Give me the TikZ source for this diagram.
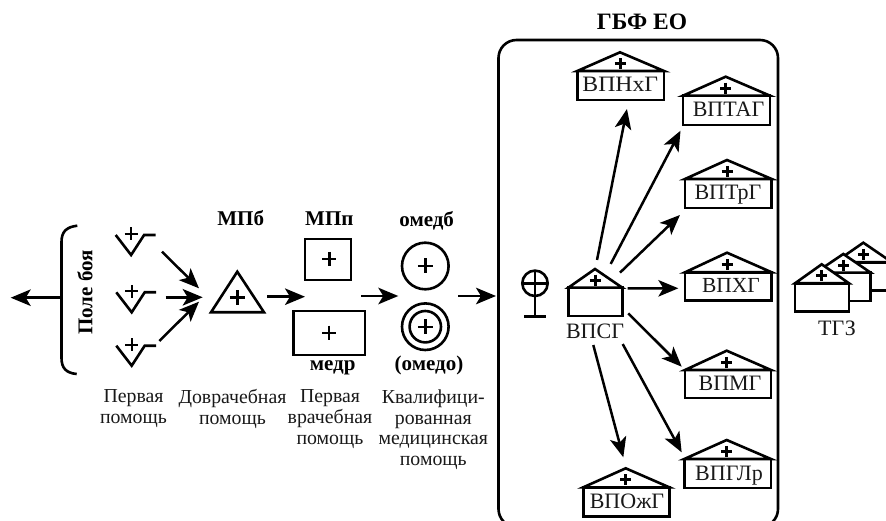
\documentclass[tikz,border=0pt]{standalone}
\usepackage{fontspec}
\usepackage{graphicx}
\setmainfont{Liberation Serif}
\usetikzlibrary{arrows.meta,calc}
\tikzset{
  lw/.style={line width=2.6pt},
  arr/.style={line width=2.5pt,-{Stealth[length=20pt,width=16.5pt,inset=5pt]}},
  sym/.style={draw,line width=2.6pt,inner sep=0pt,outer sep=0pt,fill=white},
  body/.style={inner sep=0pt,outer sep=0pt,align=center,font=\fontsize{19.8}{20.8}\selectfont,text=black!90},
  hd/.style={inner sep=0pt,outer sep=0pt,anchor=base,font=\fontsize{21}{24}\selectfont\bfseries},
  hlabel/.style={inner sep=0pt,outer sep=0pt,anchor=base,font=\fontsize{22}{24}\selectfont,text=black!90},
}
\newcommand{\PlusAt}[3]{\draw[line width=2.4pt] (#1-#3,#2) -- (#1+#3,#2) (#1,#2-#3) -- (#1,#2+#3);}
\newcommand{\PlusBold}[3]{\draw[line width=3pt] (#1-#3,#2) -- (#1+#3,#2) (#1,#2-#3) -- (#1,#2+#3);}
% name, left, right, top, bottom, apex x, apex y
\newcommand{\HouseBox}[7]{%
  \pgfmathsetmacro{\cxx}{(#2+#3)/2}\pgfmathsetmacro{\cyy}{(#4+#5)/2}%
  \pgfmathsetmacro{\ww}{#3-#2}\pgfmathsetmacro{\hh}{#5-#4}%
  \node[sym,minimum width=\ww pt,minimum height=\hh pt] (#1) at (\cxx,\cyy) {};
  \draw[lw,fill=white,line join=miter] (#1.north west) -- (#6,#7) -- (#1.north east) -- cycle;
  \pgfmathsetmacro{\pyy}{#7+(#4-#7)*0.6}%
  \PlusBold{#6}{\pyy}{5.5}
}
% with label: + text x, text
\newcommand{\HouseT}[9]{%
  \HouseBox{#1}{#2}{#3}{#4}{#5}{#6}{#7}
  \node[hlabel] (#1-t) at (#8,#5-8) {#9};
}
\newcommand{\Stretcher}[3]{% name,x,y (left end of V)
  \coordinate (#1) at (#2,#3);
  \draw[lw,line join=miter] (#1) -- ++(15.4,20) -- ++(13,-20) -- ++(11.5,0);
  \PlusAt{#2+15.5}{#3-1}{6.5}
}
\begin{document}
\begin{tikzpicture}[x=1pt,y=-1pt]
\useasboundingbox (0,0) rectangle (886,521);
\clip (0,0) rectangle (886,521);
\fill[white] (0,0) rectangle (886,521);

% battlefield
\coordinate (braceT) at (77.3,225.7);
\coordinate (braceB) at (76.7,374);
\coordinate (braceM) at (61.5,297.7);
\coordinate (out) at (10.7,297.7);
\draw[lw] (braceT) .. controls (66,227) and (61.5,232) .. (61.5,242) -- (61.5,358) .. controls (61.5,368) and (66,373) .. (braceB);
\draw[arr] (braceM) -- (out);
\node[hd,rotate=90] (field) at (92.3,292.3) {Поле боя};

\Stretcher{s1}{115.7}{235}
\Stretcher{s2}{116.3}{292.3}
\Stretcher{s3}{116.3}{345.7}

% MPb
\coordinate (t1) at (237.3,271.7);
\coordinate (t2) at (211,312.3);
\coordinate (t3) at (264,312.3);
\draw[lw,line join=miter] (t1) -- (t2) -- (t3) -- cycle;
\PlusAt{237.3}{297.7}{7.5}
\node[hd] (mpb) at (240.7,226) {МПб};
\draw[arr] ([shift={(46.3,16.7)}]s1) -- ([shift={(83.3,53.3)}]s1);
\draw[arr] ([shift={(49.4,5)}]s2) -- ([shift={(86.4,5)}]s2);
\draw[arr] ([shift={(43,-4.7)}]s3) -- ([shift={(82.7,-44)}]s3);

% MPp
\node[sym,minimum width=45.7pt,minimum height=41pt] (mpp) at (328,259.5) {};
\PlusAt{329.3}{259}{7}
\node[hd] (mpplab) at (329.3,226) {МПп};
\node[sym,minimum width=71.7pt,minimum height=44pt] (medr) at (329.2,333) {};
\PlusAt{329}{332.7}{7}
\node[hd] (medrlab) at (332.7,370) {медр};
\coordinate (a1) at (267.3,296.7);
\coordinate (a2) at (305,296.7);
\draw[arr] (a1) -- (a2);

% omedb
\node[sym,circle,minimum size=46.6pt] (omedb) at (425.3,266) {};
\PlusAt{425.3}{266}{7.5}
\node[hd] (omedblab) at (426.7,226.7) {омедб};
\node[sym,circle,minimum size=46.6pt] (omedo) at (425.3,326.7) {};
\node[sym,circle,minimum size=31.4pt] (omedoi) at (425.3,326.7) {};
\PlusAt{425.3}{326.7}{7.5}
\node[hd] (omedolab) at (429,370) {(омедо)};
\coordinate (b1) at (361,296);
\coordinate (b2) at (398.3,296);
\coordinate (c1) at (458.3,296);
\coordinate (c2) at (496,296);
\draw[arr] (b1) -- (b2);
\draw[arr] (c1) -- (c2);

% texts
\node[body,anchor=north] (tx1) at (133.5,389.5) {Первая\\помощь};
\node[body,anchor=north] (tx2) at (232.5,389.5) {Доврачебная\\помощь};
\node[body,anchor=north] (tx3) at (330,389.5) {Первая\\врачебная\\помощь};
\node[body,anchor=north] (tx4) at (433.3,389.5) {Квалифици-\\рованная\\медицинская\\помощь};

% GBF EO
\node[hd,font=\fontsize{23.5}{26}\selectfont\bfseries] (gbf) at (642,29.3) {ГБФ ЕО};
\draw[lw,rounded corners=18pt] (498.5,527) -- (498.5,40) -- (778,40) -- (778,527) -- cycle;

% antenna
\node[draw,lw,circle,inner sep=0pt,outer sep=0pt,minimum size=25.4pt] (ant) at (535,283.3) {};
\draw[lw] (ant.west) -- (ant.east);
\coordinate (antb) at (535,316.7);
\draw[lw] (ant.north) -- (antb);
\draw[lw] (524.3,316.7) -- (546,316.7);

% houses
\HouseBox{vpsg}{568.3}{622.3}{287.7}{316}{595}{269}
\node[hlabel] (vpsgl) at (595,338.5) {ВПСГ};
\HouseT{vpnhg}{577.3}{664}{71}{100}{620}{52.3}{620.3}{\scalebox{1.08}[1]{ВПНхГ}}
\HouseT{vptag}{683}{770}{95.7}{125}{725.7}{76.7}{728.5}{ВПТАГ}
\HouseT{vptrg}{685}{771.7}{179}{208}{727}{160}{728}{ВПТрГ}
\HouseT{vphg}{685}{771.7}{272.3}{300.7}{727}{252.7}{731}{\fontsize{21.5}{24}\selectfont ВПХГ}
\HouseT{vpmg}{685}{771}{370}{398}{726.7}{350.7}{730}{ВПМГ}
\HouseT{vpglr}{684.3}{771}{459}{488}{726.7}{440}{729}{ВПГЛр}
\HouseT{vpozg}{583.3}{669.3}{487.3}{516.7}{625.7}{468.3}{627}{ВПОжГ}

% arrows from VPSG
\draw[arr] ([shift={(1.7,-41.9)}]vpsg.center) -- ([shift={(6.3,9)}]vpnhg.south);
\draw[arr] ([shift={(15.4,-37.9)}]vpsg.center) -- ([shift={(-46,5.7)}]vptag.south);
\draw[arr] ([shift={(24.7,-29.2)}]vpsg.center) -- ([shift={(-48.4,7)}]vptrg.south);
\draw[arr] ([shift={(32.4,-13.5)}]vpsg.center) -- ([shift={(-50,-12.4)}]vphg.south);
\draw[arr] ([shift={(33,11.5)}]vpsg.center) -- ([shift={(-46.3,-31.3)}]vpmg.south);
\draw[arr] ([shift={(27.4,42.2)}]vpsg.center) -- ([shift={(-46,-35.7)}]vpglr.south);
\draw[arr] ([shift={(-2,43.2)}]vpsg.center) -- ([shift={(-3,-59.4)}]vpozg.south);

% TGZ
\HouseBox{tg3}{835}{892}{262.3}{290.7}{863.3}{242.7}
\HouseBox{tg2}{815.6}{870.7}{272.7}{301}{843.3}{254}
\HouseBox{tg1}{795}{849}{283.3}{311.7}{821.7}{264.3}
\node[hlabel] (tgz) at (837,335) {ТГЗ};
\end{tikzpicture}
\end{document}
